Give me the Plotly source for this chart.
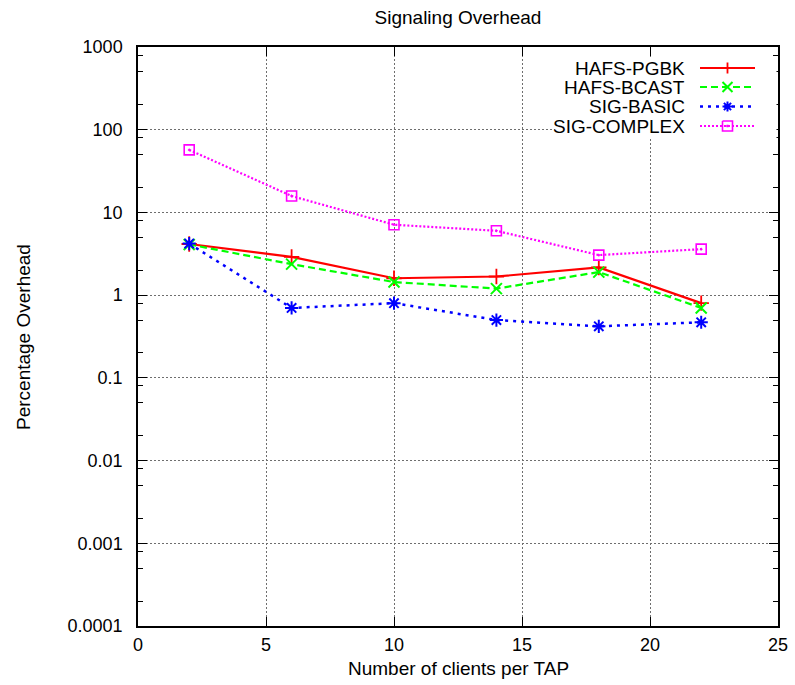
import plotly.graph_objects as go

# ---- data ----
clients = [2, 6, 10, 14, 18, 22]
hafs_pgbk = [4.15, 2.9, 1.6, 1.68, 2.16, 0.8]
hafs_bcast = [4.1, 2.37, 1.44, 1.2, 1.9, 0.7]
sig_basic = [4.2, 0.70, 0.80, 0.50, 0.42, 0.47]
sig_complex = [57, 15.8, 7.1, 6.0, 3.05, 3.6]

series_names = ["HAFS-PGBK", "HAFS-BCAST", "SIG-BASIC", "SIG-COMPLEX"]
series_values = [hafs_pgbk, hafs_bcast, sig_basic, sig_complex]
colors = ["#ff0000", "#00ff00", "#0000ff", "#ff00ff"]
dashes = ["solid", "7px,4px", "3px,5px", "2px,2px"]
line_widths = [2.2, 2.2, 2.5, 2.2]
symbols = ["cross-thin", "x-thin", "asterisk-open", "square-open-dot"]
marker_sizes = [11, 11, 11, 10]
marker_line_widths = [1.8, 2, 2, 1.6]

x_ticks = [0, 5, 10, 15, 20, 25]
y_tickvals = [0.0001, 0.001, 0.01, 0.1, 1, 10, 100, 1000]
y_ticktext = ["0.0001", "0.001", "0.01", "0.1", "1", "10", "100", "1000"]
y_minor = [m * 10 ** e for e in range(-4, 3) for m in (2, 5, 8)]

FONT = "Liberation Sans, Arial, Helvetica, sans-serif"
FS = 18      # tick labels
FS_T = 19    # titles and key

W, H = 795, 685
L, R, T, B = 138, 17, 47, 59
px_left, px_right = L, W - R
px_top, px_bottom = T, H - B
PW, PH = px_right - px_left, px_bottom - px_top


def pxx(px):
    return (px - px_left) / PW


def pxy(py):
    return (px_bottom - py) / PH


def path_from_px(segments):
    """segments: list of polylines, each a list of (px, py) points -> SVG path in paper coords"""
    parts = []
    for seg in segments:
        p0 = seg[0]
        s = "M%.5f,%.5f" % (pxx(p0[0]), pxy(p0[1]))
        for p in seg[1:]:
            s += " L%.5f,%.5f" % (pxx(p[0]), pxy(p[1]))
        parts.append(s)
    return " ".join(parts)


def key_symbol_shapes(sym, cx, cy, color, lw):
    shapes = []
    if sym == "cross-thin":
        h = 5.5
        shapes.append(dict(path=path_from_px([[(cx - h, cy), (cx + h, cy)], [(cx, cy - h), (cx, cy + h)]]),
                           line=dict(color=color, width=lw)))
    elif sym == "x-thin":
        h = 5.0
        shapes.append(dict(path=path_from_px([[(cx - h, cy - h), (cx + h, cy + h)],
                                              [(cx - h, cy + h), (cx + h, cy - h)]]),
                           line=dict(color=color, width=lw)))
    elif sym == "asterisk-open":
        h = 5.0
        d = h * 0.72
        shapes.append(dict(path=path_from_px([[(cx - h, cy), (cx + h, cy)], [(cx, cy - h), (cx, cy + h)],
                                              [(cx - d, cy - d), (cx + d, cy + d)],
                                              [(cx - d, cy + d), (cx + d, cy - d)]]),
                           line=dict(color=color, width=lw)))
    elif sym == "square-open-dot":
        h = 5.0
        shapes.append(dict(path=path_from_px([[(cx - h, cy - h), (cx + h, cy - h), (cx + h, cy + h),
                                               (cx - h, cy + h), (cx - h, cy - h)]]),
                           line=dict(color=color, width=lw)))
        shapes.append(dict(path=path_from_px([[(cx - 1, cy - 1), (cx + 1, cy - 1), (cx + 1, cy + 1),
                                               (cx - 1, cy + 1), (cx - 1, cy - 1)]]),
                           line=dict(color=color, width=0.5), fillcolor=color))
    return shapes


fig = go.Figure()

for name, vals, c, d, lw, sym, ms, mlw in zip(series_names, series_values, colors, dashes,
                                              line_widths, symbols, marker_sizes, marker_line_widths):
    fig.add_trace(go.Scatter(
        x=clients, y=vals, name=name, mode="lines+markers",
        line=dict(color=c, width=lw, dash=d),
        marker=dict(symbol=sym, size=ms, color=c, line=dict(color=c, width=mlw)),
        showlegend=False, cliponaxis=False,
    ))

# ---- gnuplot-style key: opaque white box, then samples (all above the plot) ----
fig.add_shape(type="rect", xref="paper", yref="paper",
              x0=pxx(555), x1=pxx(px_right - 1.5), y0=pxy(138), y1=pxy(57),
              fillcolor="white", line=dict(width=0), layer="above")

key_rows_y = [68, 87, 106.5, 126]
key_text_right = 687
key_line = (700, 755)
key_marker_x = 727.5
for name, c, d, lw, sym, mlw, ky in zip(series_names, colors, dashes, line_widths,
                                        symbols, marker_line_widths, key_rows_y):
    fig.add_shape(type="line", xref="paper", yref="paper",
                  x0=pxx(key_line[0]), x1=pxx(key_line[1]), y0=pxy(ky), y1=pxy(ky),
                  line=dict(color=c, width=lw, dash=d), layer="above")
    for shp in key_symbol_shapes(sym, key_marker_x, ky, c, mlw):
        fig.add_shape(type="path", xref="paper", yref="paper", layer="above", **shp)
    fig.add_annotation(
        x=pxx(key_text_right), y=pxy(ky), xref="paper", yref="paper",
        text=name, showarrow=False, xanchor="right", yanchor="middle",
        font=dict(family=FONT, size=FS_T, color="black"),
    )

grid_style = dict(showgrid=True, gridcolor="#6e6e6e", gridwidth=1, griddash="2px,2px")

fig.update_layout(
    width=W, height=H,
    margin=dict(l=L, r=R, t=T, b=B, pad=0, autoexpand=False),
    paper_bgcolor="white", plot_bgcolor="white",
    font=dict(family=FONT, size=FS, color="black"),
    title=dict(text="Signaling Overhead", x=0.5, xref="paper", xanchor="center",
               y=1 - 17 / H, yref="container", yanchor="middle", automargin=False,
               font=dict(family=FONT, size=FS_T, color="black")),
    xaxis=dict(
        range=[0, 25], tickmode="array", tickvals=x_ticks,
        ticktext=[str(v) for v in x_ticks], automargin=False,
        ticks="inside", ticklen=9, tickwidth=1.2, tickcolor="black",
        showline=True, linecolor="black", linewidth=1.5, mirror="allticks",
        zeroline=False, ticklabelstandoff=2,
        tickfont=dict(family=FONT, size=FS, color="black"),
        **grid_style,
    ),
    yaxis=dict(
        type="log", range=[-4, 3], tickmode="array", tickvals=y_tickvals,
        ticktext=y_ticktext, automargin=False,
        ticks="inside", ticklen=9, tickwidth=1.2, tickcolor="black",
        showline=True, linecolor="black", linewidth=1.5, mirror="allticks",
        zeroline=False, ticklabelstandoff=10,
        tickfont=dict(family=FONT, size=FS, color="black"),
        minor=dict(tickmode="array", tickvals=y_minor, ticks="inside", ticklen=5,
                   tickwidth=1.2, tickcolor="black", showgrid=False),
        **grid_style,
    ),
    showlegend=False,
)

fig.add_annotation(text="Number of clients per TAP", x=0.5, xref="paper",
                   y=pxy(668), yref="paper", xanchor="center", yanchor="middle",
                   showarrow=False, font=dict(family=FONT, size=FS_T, color="black"))
fig.add_annotation(text="Percentage Overhead", x=pxx(24), xref="paper",
                   y=pxy(337), yref="paper", xanchor="center", yanchor="middle",
                   textangle=-90, showarrow=False,
                   font=dict(family=FONT, size=FS_T, color="black"))

fig.write_html("out.html")
